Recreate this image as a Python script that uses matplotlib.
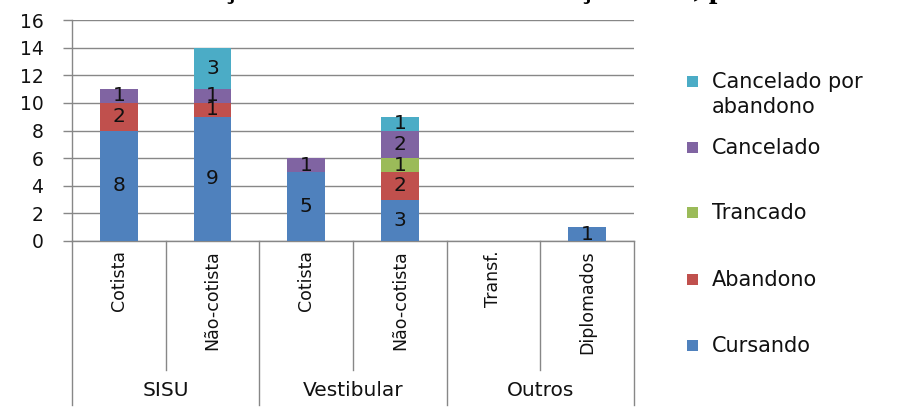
import matplotlib
matplotlib.use("Agg")
import matplotlib.pyplot as plt
import matplotlib.transforms as mtransforms
from matplotlib.patches import Rectangle

# ---- data ----
subcats = ["Cotista", "Não-cotista", "Cotista", "Não-cotista", "Transf.", "Diplomados"]
groups = ["SISU", "Vestibular", "Outros"]
group_sizes = [2, 2, 2]
series_names = ["Cursando", "Abandono", "Trancado", "Cancelado", "Cancelado por\nabandono"]
cursando = [8, 9, 5, 3, 0, 1]
abandono = [2, 1, 0, 2, 0, 0]
trancado = [0, 0, 0, 1, 0, 0]
cancelado = [1, 1, 1, 2, 0, 0]
canc_aband = [0, 3, 0, 1, 0, 0]
series_values = [cursando, abandono, trancado, cancelado, canc_aband]
colors = ["#4F81BD", "#C0504D", "#9BBB59", "#8064A2", "#4BACC6"]
yticks = [0, 2, 4, 6, 8, 10, 12, 14, 16]
title = "Gráfico 1 – Situação dos estudantes do Serviço Social, por forma de ingresso"

W, H = 906, 409
FONT = "DejaVu Sans"
TXT = "#111111"
GRID = "#878787"
fig = plt.figure(figsize=(W / 100, H / 100), dpi=100)

def fx(px):
    return px / W

def fy(py):
    return 1 - py / H

ax_l, ax_r, ax_t, ax_b = 72, 634, 20, 241
ax = fig.add_axes([fx(ax_l), fy(ax_b), fx(ax_r - ax_l), (ax_b - ax_t) / H])
ax_h = ax_b - ax_t

x = list(range(len(subcats)))
bottom = [0] * len(subcats)
for vals, col in zip(series_values, colors):
    ax.bar(x, vals, width=0.40, bottom=bottom, color=col, zorder=3)
    for xi, v, b in zip(x, vals, bottom):
        if v > 0:
            ax.text(xi, b + v / 2, str(v), ha="center", va="center",
                    fontsize=14.5, family=FONT, color=TXT, zorder=4)
    bottom = [b + v for b, v in zip(bottom, vals)]

ax.set_xlim(-0.5, len(subcats) - 0.5)
ax.set_ylim(0, 16)
ax.set_yticks(yticks)
ax.set_yticklabels([str(t) for t in yticks], fontsize=13.5, family=FONT, color=TXT)
ax.tick_params(axis="y", length=6.5, width=1, color=GRID, pad=14)
ax.set_xticks([])
ax.yaxis.grid(True, color=GRID, lw=1, zorder=0)
for s in ["top", "right"]:
    ax.spines[s].set_visible(False)
for s in ["left", "bottom"]:
    ax.spines[s].set_color(GRID)
    ax.spines[s].set_linewidth(1)

# multi-level category axis
trans = mtransforms.blended_transform_factory(ax.transData, ax.transAxes)
y_sub = -(370 - ax_b) / ax_h
y_grp = -(405 - ax_b) / ax_h
for xi, lab in zip(x, subcats):
    ax.text(xi, -9 / ax_h, lab, rotation=90, ha="center", va="top",
            fontsize=12.5, family=FONT, color=TXT, transform=trans)
start = 0
for g, n in zip(groups, group_sizes):
    end = start + n
    ax.plot([start - 0.5, start - 0.5], [0, y_grp], color=GRID, lw=1,
            transform=trans, clip_on=False)
    for k in range(start + 1, end):
        ax.plot([k - 0.5, k - 0.5], [0, y_sub], color=GRID, lw=1,
                transform=trans, clip_on=False)
    ax.text((start + end - 1) / 2, -(391 - ax_b) / ax_h, g, ha="center", va="center",
            fontsize=14.5, family=FONT, color=TXT, transform=trans)
    start = end
ax.plot([start - 0.5, start - 0.5], [0, y_grp], color=GRID, lw=1,
        transform=trans, clip_on=False)

# legend (top to bottom: reversed series)
leg_y = [82, 148, 213, 280, 346]
for name, col, yy in zip(series_names[::-1], colors[::-1], leg_y):
    fig.add_artist(Rectangle((fx(687), fy(yy + 5)), fx(11), 11 / H,
                             facecolor=col, edgecolor="none", transform=fig.transFigure))
    lines = name.split("\n")
    for i, ln in enumerate(lines):
        fig.text(fx(712), fy(yy + i * 25), ln, ha="left", va="center",
                 fontsize=15, family=FONT, color=TXT)

# clipped title at the very top (only the lowest pixels are visible)
fig.text(fx(2), fy(-3.5), title, ha="left", va="baseline", fontsize=22,
         family="Liberation Serif", weight="bold", color="black")

fig.savefig("out.png", dpi=100)
